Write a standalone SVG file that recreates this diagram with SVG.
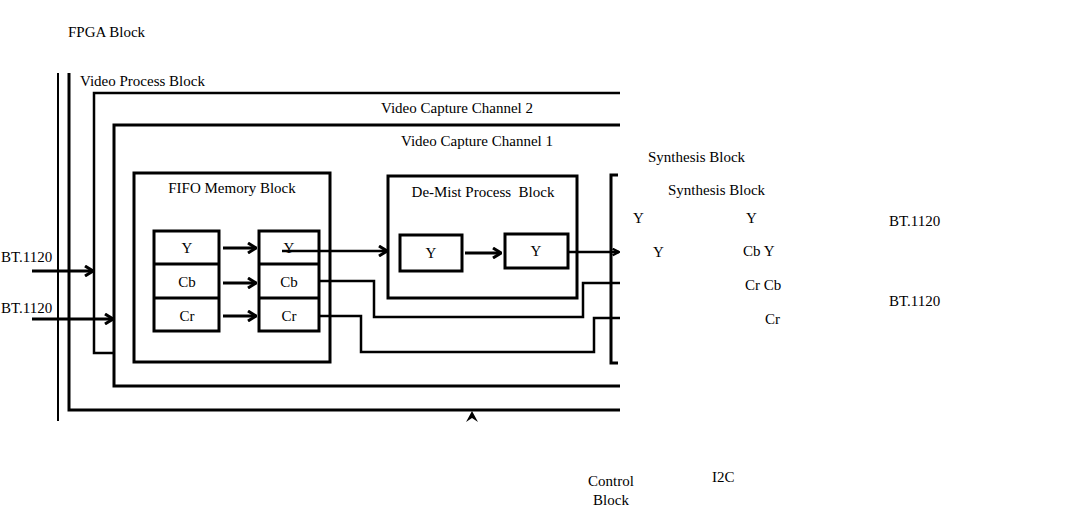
<svg xmlns="http://www.w3.org/2000/svg" width="1089" height="532" viewBox="0 0 1089 532">
<style>
text{font-family:"Liberation Serif","Times New Roman",serif;font-size:15px;fill:#000}
.c{text-anchor:middle}
.b{fill:none;stroke:#000;stroke-width:3}
.w{fill:none;stroke:#000;stroke-width:2.5}
.l{fill:none;stroke:#000;stroke-width:3}
.t{fill:none;stroke:#000;stroke-width:2}
</style>
<defs>
<marker id="ah" viewBox="0 0 10 12" refX="9" refY="6" markerWidth="10" markerHeight="12" markerUnits="userSpaceOnUse" orient="auto">
<polyline points="1,1 9,6 1,11" fill="none" stroke="#000" stroke-width="3"/>
</marker>
<marker id="ahs" viewBox="0 0 10 10" refX="9" refY="5" markerWidth="8" markerHeight="9" markerUnits="userSpaceOnUse" orient="auto">
<polyline points="1,1 9,5 1,9" fill="none" stroke="#000" stroke-width="3"/>
</marker>
</defs>
<rect width="1089" height="532" fill="#fff"/>
<g id="fpga">
<text x="68" y="37">FPGA Block</text>
<line x1="58" y1="73" x2="58" y2="421" class="t"/>
</g>
<g id="video-process">
<text x="80" y="86">Video Process Block</text>
<polyline points="69,73 69,410 620,410" class="b"/>
</g>
<g id="channel2">
<text x="381" y="113">Video Capture Channel 2</text>
<polyline points="620,93 94,93 94,353 113,353" class="w"/>
</g>
<g id="channel1">
<text x="401" y="146">Video Capture Channel 1</text>
<polyline points="620,125 114,125 114,386 620,386" class="b"/>
</g>
<g id="fifo">
<rect x="134" y="173" width="196" height="189" class="b"/>
<text x="232" y="193" class="c">FIFO Memory Block</text>
<rect x="154" y="231" width="65" height="100" class="l"/>
<line x1="154" y1="264" x2="219" y2="264" class="l"/>
<line x1="154" y1="298" x2="219" y2="298" class="l"/>
<text x="187" y="253" class="c">Y</text>
<text x="187" y="287" class="c">Cb</text>
<text x="187" y="321" class="c">Cr</text>
<rect x="259" y="231" width="60" height="100" class="l"/>
<line x1="259" y1="264" x2="319" y2="264" class="l"/>
<line x1="259" y1="298" x2="319" y2="298" class="l"/>
<text x="289" y="253" class="c">Y</text>
<text x="289" y="287" class="c">Cb</text>
<text x="289" y="321" class="c">Cr</text>
</g>
<g id="demist">
<rect x="388" y="176" width="189" height="122" class="b"/>
<text x="483" y="197" class="c" xml:space="preserve">De-Mist Process&#160; Block</text>
<rect x="400" y="235" width="62" height="36" class="l"/>
<text x="431" y="258" class="c">Y</text>
<rect x="505" y="234" width="63" height="34" class="l"/>
<text x="536" y="256" class="c">Y</text>
</g>
<g id="synthesis">
<text x="648" y="162">Synthesis Block</text>
<polyline points="618,175 611,175 611,363 618,363" class="b"/>
<text x="668" y="195">Synthesis Block</text>
<text x="633" y="223">Y</text>
<text x="746" y="223">Y</text>
<text x="653" y="257">Y</text>
<text x="743" y="256">Cb Y</text>
<text x="745" y="290">Cr Cb</text>
<text x="765" y="324">Cr</text>
</g>
<g id="outputs">
<text x="889" y="226">BT.1120</text>
<text x="889" y="306">BT.1120</text>
</g>
<g id="inputs">
<text x="1" y="262">BT.1120</text>
<text x="1" y="313">BT.1120</text>
</g>
<g id="control">
<text x="611" y="486" class="c">Control</text>
<text x="611" y="505" class="c">Block</text>
<text x="712" y="482">I2C</text>
</g>
<g id="connectors">
<line x1="32" y1="271" x2="93" y2="271" class="l" marker-end="url(#ah)"/>
<line x1="32" y1="319" x2="113" y2="319" class="l" marker-end="url(#ah)"/>
<line x1="223" y1="248" x2="256" y2="248" class="l" marker-end="url(#ah)"/>
<line x1="223" y1="283" x2="256" y2="283" class="l" marker-end="url(#ah)"/>
<line x1="223" y1="316" x2="256" y2="316" class="l" marker-end="url(#ah)"/>
<line x1="282" y1="251" x2="387" y2="251" class="w" marker-end="url(#ah)"/>
<line x1="465" y1="253" x2="501" y2="253" class="l" marker-end="url(#ah)"/>
<line x1="569" y1="252" x2="619" y2="252" class="w" marker-end="url(#ahs)"/>
<polyline points="320,281 374,281 374,317 583,317 583,283 620,283" class="w"/>
<polyline points="320,316 361,316 361,352 594,352 594,318 620,318" class="w"/>
<polygon points="472,411 478,422 472,418 466,422" fill="#000"/>
</g>
</svg>
